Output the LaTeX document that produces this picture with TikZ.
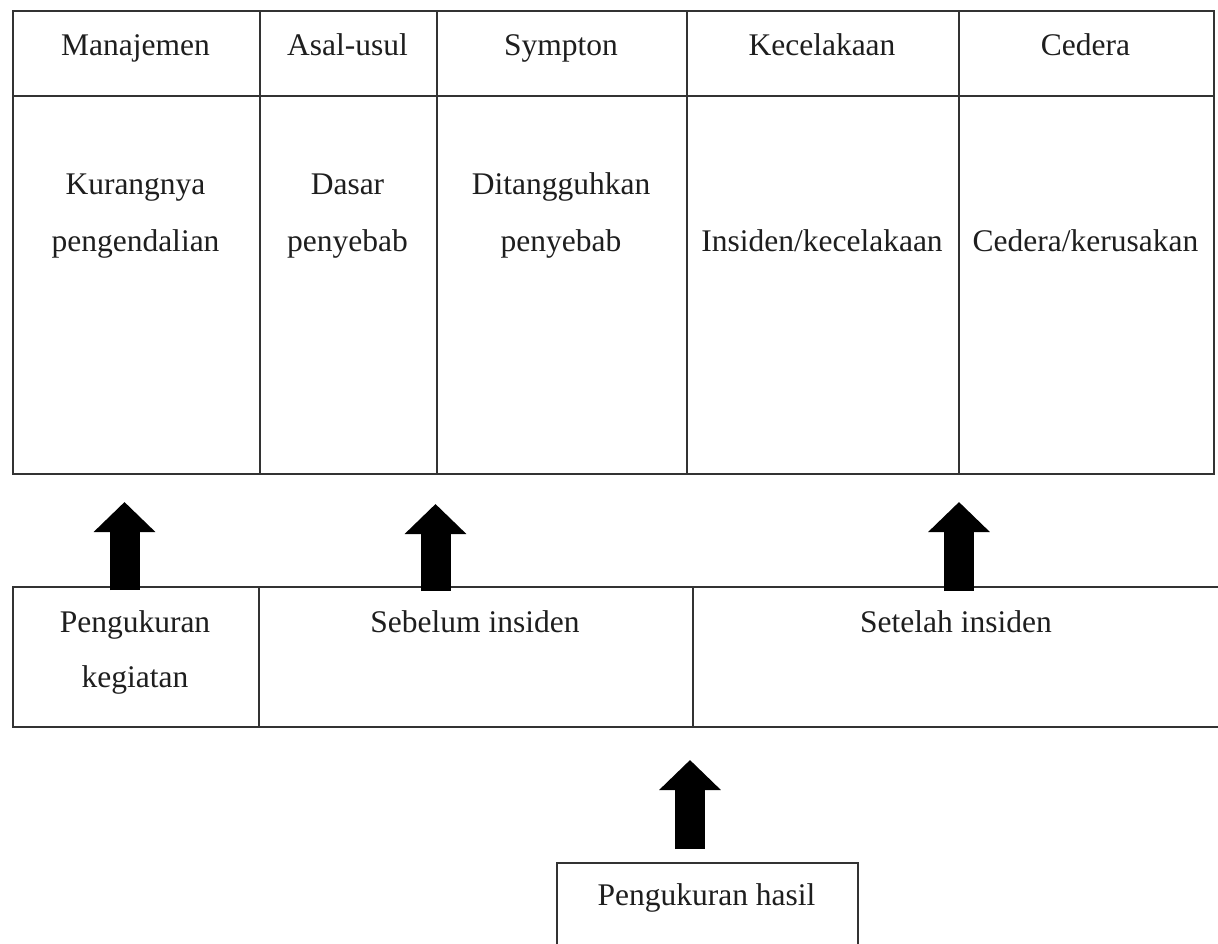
\documentclass[tikz,border=0pt]{standalone}
\usepackage{fontspec}
\setmainfont{Liberation Serif}
\usetikzlibrary{arrows.meta}
\definecolor{linegray}{HTML}{333333}
\definecolor{textgray}{HTML}{1E1E1E}
\begin{document}
\begin{tikzpicture}[x=1pt,y=-1pt,
  cell/.style={draw=linegray, line width=2pt, inner sep=0pt, anchor=north west, rectangle},
  txt/.style={text=textgray, font=\fontsize{31.5}{40}\selectfont, inner sep=0pt, anchor=base},
  blockarrow/.style={draw=black, line width=30pt, -{Triangle[width=60pt,length=30pt]}}]
\useasboundingbox (0,0) rectangle (1218,943);
\fill[white] (0,0) rectangle (1218,943);
% top table headers
\node[cell, minimum width=247pt, minimum height=85pt] (h1) at (12,10) {};
\node[cell, minimum width=177pt, minimum height=85pt] (h2) at (259,10) {};
\node[cell, minimum width=250pt, minimum height=85pt] (h3) at (436,10) {};
\node[cell, minimum width=272pt, minimum height=85pt] (h4) at (686,10) {};
\node[cell, minimum width=255pt, minimum height=85pt] (h5) at (958,10) {};
% top table bodies
\node[cell, minimum width=247pt, minimum height=378pt] (c1) at (12,95) {};
\node[cell, minimum width=177pt, minimum height=378pt] (c2) at (259,95) {};
\node[cell, minimum width=250pt, minimum height=378pt] (c3) at (436,95) {};
\node[cell, minimum width=272pt, minimum height=378pt] (c4) at (686,95) {};
\node[cell, minimum width=255pt, minimum height=378pt] (c5) at (958,95) {};
% header texts
\node[txt] (t1) at (135.5,55) {Manajemen};
\node[txt] (t2) at (347.5,55) {Asal-usul};
\node[txt] (t3) at (561,55) {Sympton};
\node[txt] (t4) at (822,55) {Kecelakaan};
\node[txt] (t5) at (1085.5,55) {Cedera};
% body texts
\node[txt] (k1a) at (135.5,194) {Kurangnya};
\node[txt] (k1b) at (135.5,251) {pengendalian};
\node[txt] (k2a) at (347.5,194) {Dasar};
\node[txt] (k2b) at (347.5,251) {penyebab};
\node[txt] (k3a) at (561,194) {Ditangguhkan};
\node[txt] (k3b) at (561,251) {penyebab};
\node[txt] (k4) at (822,251) {Insiden/kecelakaan};
\node[txt] (k5) at (1085.5,251) {Cedera/kerusakan};
% bottom table
\node[cell, minimum width=246pt, minimum height=140pt] (b1) at (12,586) {};
\node[cell, minimum width=434pt, minimum height=140pt] (b2) at (258,586) {};
\node[cell, minimum width=532pt, minimum height=140pt] (b3) at (692,586) {};
\node[txt] (p1a) at (135,632) {Pengukuran};
\node[txt] (p1b) at (135,687) {kegiatan};
\node[txt] (p2) at (475,632) {Sebelum insiden};
\node[txt] (p3) at (956,632) {Setelah insiden};
% result box
\node[cell, minimum width=301pt, minimum height=110pt] (hb) at (556,862) {};
\node[txt] (hasil) at (706.5,905) {Pengukuran hasil};
% arrow columns
\coordinate (x1) at (124.5,0);
\coordinate (x2) at (435.5,0);
\coordinate (x3) at (959,0);
\coordinate (x4) at (690,0);
\draw[blockarrow] ([yshift=-4pt]b1.north -| x1) -- ([yshift=-27pt]c1.south -| x1);
\draw[blockarrow] ([yshift=-5pt]b2.north -| x2) -- ([yshift=-29pt]c3.south -| x2);
\draw[blockarrow] ([yshift=-5pt]b3.north -| x3) -- ([yshift=-27pt]c5.south -| x3);
\draw[blockarrow] ([yshift=13pt]hb.north -| x4) -- ([yshift=-32pt]b3.south -| x4);
\end{tikzpicture}
\end{document}
